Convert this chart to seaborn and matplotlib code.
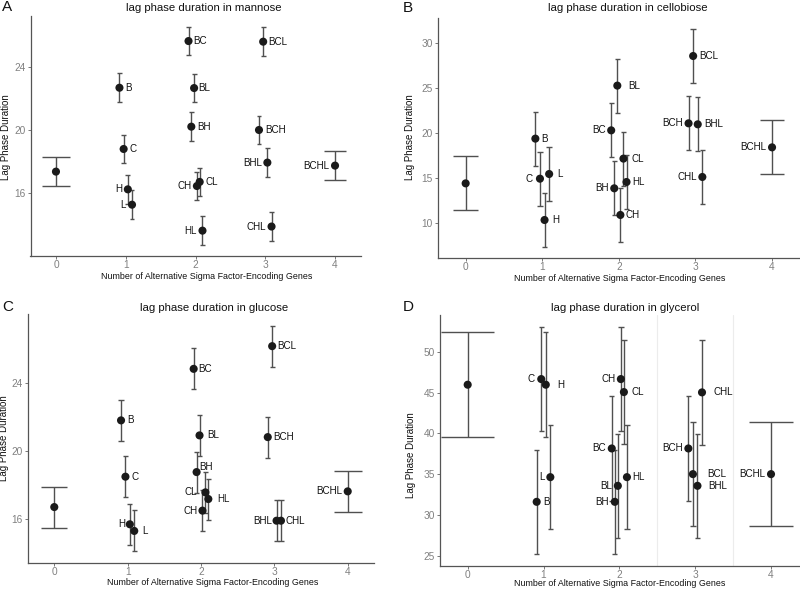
import numpy as np
import pandas as pd
import matplotlib
matplotlib.use('Agg')
import matplotlib.pyplot as plt
import seaborn as sns

# genotypes (the first one is the strain without alternative sigma genes)
genotypes = ['', 'B', 'C', 'H', 'L', 'BC', 'BH', 'BL', 'CH', 'CL', 'HL',
             'BCH', 'BCL', 'BHL', 'CHL', 'BCHL']

# mean lag phase durations
mannose = [17.37, 22.67, 18.80, 16.25, 15.28, 25.62, 20.21, 22.65, 16.46, 16.72,
           13.64, 20.00, 25.58, 17.94, 13.90, 17.75]
cellobiose = [14.44, 19.41, 14.96, 10.37, 15.48, 20.33, 13.89, 25.30, 10.93, 17.19,
              14.59, 21.11, 28.59, 21.00, 15.15, 18.44]
glucose = [16.72, 21.80, 18.50, 15.71, 15.32, 24.82, 18.77, 20.92, 16.51, 17.58,
           17.19, 20.82, 26.15, 15.92, 15.92, 17.64]
glycerol = [45.96, 31.63, 46.65, 45.96, 34.65, 38.16, 31.63, 33.59, 46.65, 45.06,
            34.65, 38.16, 35.02, 33.59, 45.02, 35.02]

# error bar half-lengths
mannose_err = 0.9
cellobiose_err = 3.0
glucose_err = 1.2
glycerol_err = 6.4

W, H = 800, 589
sns.set_theme(style='ticks')
plt.rcParams['font.family'] = ['Liberation Sans', 'DejaVu Sans']

# x position: number of genes + dodge inside each group
n_genes = np.array([len(g) for g in genotypes])
dodge = np.zeros(len(genotypes))
for k in np.unique(n_genes):
    idx = np.where(n_genes == k)[0]
    m = len(idx)
    if m > 1:
        dodge[idx] = (np.arange(m) + 0.5) / m * 0.24 - 0.12
xpos = n_genes + dodge

# label offsets in points (negative = label on the left)
offs = {
    'A': {'B': 4, 'C': 4, 'H': -4, 'L': -4.5, 'BC': 3.5, 'BH': 4.5, 'BL': 3, 'CH': -4,
          'CL': 4.5, 'HL': -4, 'BCH': 4.5, 'BCL': 4, 'BHL': -4, 'CHL': -4, 'BCHL': -4},
    'B': {'B': 4, 'C': -5, 'H': 5.5, 'L': 5.5, 'BC': -4, 'BH': -4, 'BL': 8, 'CH': 3.5,
          'CL': 5.5, 'HL': 4, 'BCH': -4, 'BCL': 4.5, 'BHL': 4.5, 'CHL': -4, 'BCHL': -4},
    'C': {'B': 4.5, 'C': 4.5, 'H': -3.5, 'L': 5.5, 'BC': 3, 'BH': 2, 'BL': 5.5, 'CH': -3.5,
          'CL': -6, 'HL': 6.5, 'BCH': 4, 'BCL': 3.5, 'BHL': -3.5, 'CHL': 3.5, 'BCHL': -4},
    'D': {'B': 4.5, 'C': -5, 'H': 8, 'L': -4, 'BC': -4, 'BH': -4.5, 'BL': -4, 'CH': -4,
          'CL': 5.5, 'HL': 4, 'BCH': -4, 'BCL': 10, 'BHL': 8, 'CHL': 8, 'BCHL': -4},
}
dy_offs = {'C': {'BH': 3.4}}

# letter, title, values, err, yticks, axes box (px), title x, xlabel x/y, ylabel x/y, wide caps
panels = [
    ('A', 'lag phase duration in mannose', mannose, mannose_err, [16, 20, 24],
     (30.5, 15.9, 360.5, 255.8), 204, (207, 276.5), (6, 137), (0.20, 0.16)),
    ('B', 'lag phase duration in cellobiose', cellobiose, cellobiose_err, [10, 15, 20, 25, 30],
     (437.7, 18.1, 800, 257.9), 628, (620, 278.5), (410, 137), (0.16, 0.16)),
    ('C', 'lag phase duration in glucose', glucose, glucose_err, [16, 20, 24],
     (27.5, 314.4, 374.5, 562.7), 214, (213, 582.5), (4, 438), (0.18, 0.19)),
    ('D', 'lag phase duration in glycerol', glycerol, glycerol_err, [25, 30, 35, 40, 45, 50],
     (440, 315.4, 798.7, 565.5), 625, (620, 584), (411, 455), (0.35, 0.29)),
]
letter_pos = {'A': (2, 7), 'B': (403, 8), 'C': (2, 307), 'D': (403, 307)}

fig = plt.figure(figsize=(W / 100, H / 100), dpi=100)
line_col = '#505050'

for letter, title, vals, err, yticks, box, tx, xl, yl, wide in panels:
    x0, y0, x1, y1 = box
    ax = fig.add_axes([x0 / W, 1 - y1 / H, (x1 - x0) / W, (y1 - y0) / H])
    df = pd.DataFrame({'x': xpos, 'y': vals, 'g': genotypes})

    if letter == 'D':
        for v in (2.5, 3.5):
            ax.axvline(v, color='#ececec', lw=0.8, zorder=0)

    # error bars
    ax.vlines(df['x'], df['y'] - err, df['y'] + err, color=line_col, lw=1.0, zorder=2)
    half = np.where(n_genes == 0, wide[0], np.where(n_genes == 4, wide[1], 0.035))
    for yy in (df['y'] - err, df['y'] + err):
        ax.hlines(yy, df['x'] - half, df['x'] + half, color=line_col, lw=1.0, zorder=2)

    sns.scatterplot(data=df, x='x', y='y', ax=ax, color='#1a1a1a', s=34,
                    edgecolor='none', linewidth=0, zorder=3, legend=False)

    for _, r in df.iterrows():
        if r['g'] == '':
            continue
        dx = offs[letter][r['g']]
        dy = dy_offs.get(letter, {}).get(r['g'], 0)
        ax.annotate(r['g'], (r['x'], r['y']), xytext=(dx, dy), textcoords='offset points',
                    ha='left' if dx > 0 else 'right', va='center', fontsize=7.1,
                    color='#111111', zorder=4)

    lo = np.min(df['y'] - err)
    hi = np.max(df['y'] + err)
    pad = (hi - lo) * 0.05
    ax.set_ylim(lo - pad, hi + pad)
    ax.set_xlim(-0.365, 4.365)
    ax.set_xticks([0, 1, 2, 3, 4])
    ax.set_yticks(yticks)
    ax.set_xlabel('')
    ax.set_ylabel('')
    sns.despine(ax=ax)
    for s in ('left', 'bottom'):
        ax.spines[s].set_color('#555555')
        ax.spines[s].set_linewidth(0.9)
    ax.tick_params(axis='both', labelsize=7.3, labelcolor='#808080', color='#777777',
                   length=2.2, width=0.7, pad=1.5)
    ax.tick_params(axis='x', pad=0.8)

    fig.text(tx / W, 1 - 8 / H if letter in 'AB' else 1 - 308 / H, title,
             ha='center', va='center', fontsize=8.2, color='#111111')
    fig.text(xl[0] / W, 1 - xl[1] / H, 'Number of Alternative Sigma Factor-Encoding Genes',
             ha='center', va='center', fontsize=6.4, color='#111111')
    fig.text(yl[0] / W, 1 - yl[1] / H, 'Lag Phase Duration', rotation=90,
             ha='center', va='center', fontsize=7.0, color='#111111')
    lx, ly = letter_pos[letter]
    fig.text(lx / W, 1 - ly / H, letter, ha='left', va='center', fontsize=11,
             color='#111111')

plt.savefig('out.png', dpi=100)
